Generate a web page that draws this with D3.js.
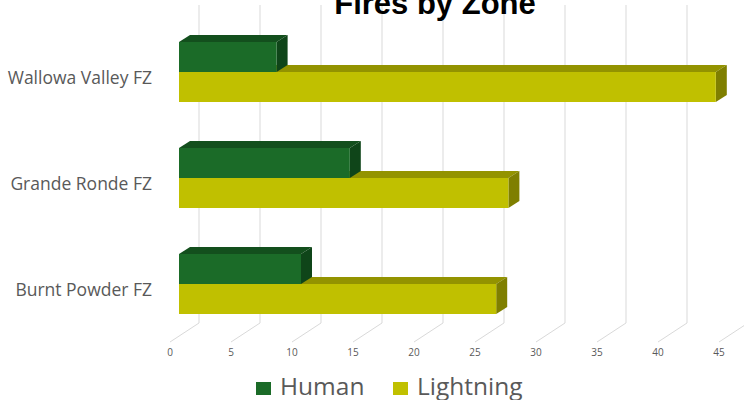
<!DOCTYPE html>
<html>
<head>
<meta charset="utf-8">
<script src="https://cdn.jsdelivr.net/npm/d3@7"></script>
<style>
  body { margin: 0; background: #fff; }
  svg { display: block; }
</style>
</head>
<body>
<div id="chart"></div>
<script>
// data
const zones = ["Wallowa Valley FZ", "Grande Ronde FZ", "Burnt Powder FZ"]
const seriesNames = ["Human", "Lightning"]
const humanFires = [8, 14, 10]
const lightningFires = [44, 27, 26]
const ticks = [0, 5, 10, 15, 20, 25, 30, 35, 40, 45]

const colors = {
    Human: { front: "#1b6b28", top: "#134f1d", side: "#0f4519" },
    Lightning: { front: "#c0c000", top: "#939300", side: "#7f7f00" }
}

const svgWidth = 744, svgHeight = 400

const svg = d3.select("#chart")
    .append("svg")
    .attr("width", svgWidth)
    .attr("height", svgHeight)

// depth offsets
const barDx = 11, barDy = -7
const wallDx = 20, floorDx = -9
const wallTop = 5, wallBottom = 323, floorY = 342

const x = d3.scaleLinear().domain([0, 45]).range([179, 728])

const y = d3.scaleBand().domain(zones).range([19, 337])
const ySeries = d3.scaleBand().domain(seriesNames).range([0, 60])

// grid lines on back wall + floor
const grid = svg.append("g")
grid.selectAll("path")
    .data(ticks)
    .enter()
    .append("path")
    .attr("d", d => `M${x(d) + wallDx},${wallTop}V${wallBottom}L${x(d) + floorDx},${floorY}`)
    .attr("fill", "none")
    .attr("stroke", "#d9d9d9")
    .attr("stroke-width", 1)

// tick labels
svg.append("g").selectAll("text")
    .data(ticks)
    .enter()
    .append("text")
    .attr("x", d => x(d) + floorDx)
    .attr("y", 356)
    .attr("text-anchor", "middle")
    .attr("font-family", "Open Sans, sans-serif")
    .attr("font-size", 10)
    .attr("fill", "#595959")
    .text(d => d)

// bars
const rows = zones.map((z, i) => ({ zone: z, Human: humanFires[i], Lightning: lightningFires[i] }))

function drawBar(g, name, value, top) {
    const c = colors[name]
    const x0 = x(0), x1 = x(value), h = ySeries.bandwidth()
    g.append("polygon")
        .attr("points", [[x0, top], [x0 + barDx, top + barDy], [x1 + barDx, top + barDy], [x1, top]].join(" "))
        .attr("fill", c.top)
    g.append("polygon")
        .attr("points", [[x1, top], [x1 + barDx, top + barDy], [x1 + barDx, top + h + barDy], [x1, top + h]].join(" "))
        .attr("fill", c.side)
    g.append("rect")
        .attr("x", x0)
        .attr("y", top)
        .attr("width", x1 - x0)
        .attr("height", h)
        .attr("fill", c.front)
}

const bars = svg.append("g")
rows.forEach(r => {
    const g = bars.append("g")
    const base = y(r.zone) + (y.bandwidth() - 60) / 2
    // lightning first so human bar sits in front of its top face
    drawBar(g, "Lightning", r.Lightning, base + ySeries("Lightning"))
    drawBar(g, "Human", r.Human, base + ySeries("Human"))
})

// category labels
svg.append("g").selectAll("text")
    .data(zones)
    .enter()
    .append("text")
    .attr("x", 152)
    .attr("y", d => y(d) + y.bandwidth() / 2 + 12)
    .attr("text-anchor", "end")
    .attr("font-family", "Open Sans, sans-serif")
    .attr("font-size", 17.5)
    .attr("fill", "#595959")
    .text(d => d)

// title
svg.append("text")
    .attr("x", 435)
    .attr("y", 14)
    .attr("text-anchor", "middle")
    .attr("font-family", "Liberation Sans, Arial, sans-serif")
    .attr("font-weight", "bold")
    .attr("font-size", 31)
    .attr("fill", "#000")
    .text("Fires by Zone")

// legend
const legendX = [256, 393]
const legend = svg.append("g").selectAll("g")
    .data(seriesNames)
    .enter()
    .append("g")
    .attr("transform", (d, i) => `translate(${legendX[i]}, 382)`)

legend.append("rect")
    .attr("width", 15)
    .attr("height", 13)
    .attr("fill", d => colors[d].front)

legend.append("text")
    .attr("x", 24)
    .attr("y", 13)
    .attr("font-family", "Open Sans, sans-serif")
    .attr("font-size", 24.5)
    .attr("fill", "#595959")
    .text(d => d)
</script>
</body>
</html>
